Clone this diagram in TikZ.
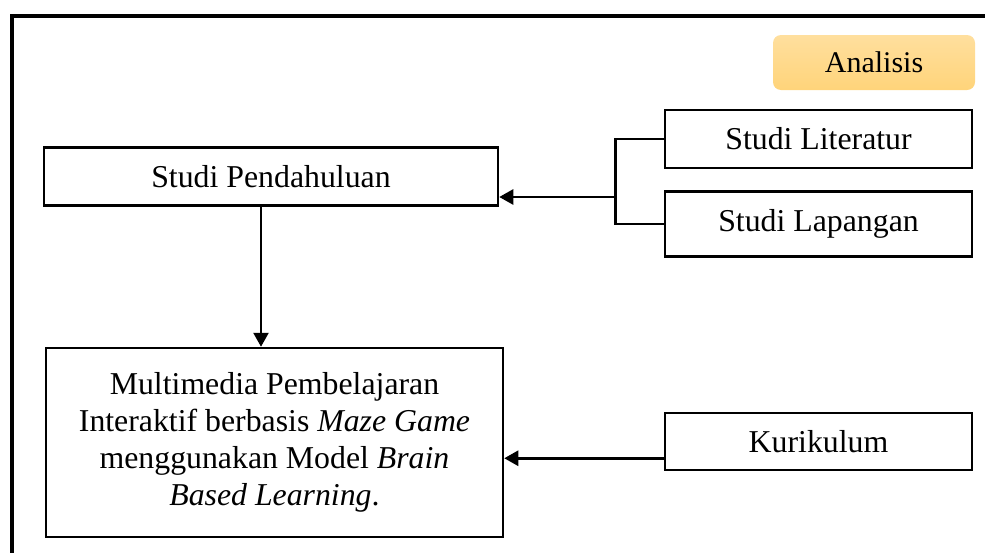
\documentclass[tikz,border=0pt]{standalone}
\usepackage{fontspec}
\setmainfont{Liberation Serif}
\usetikzlibrary{arrows.meta}
\definecolor{tagtop}{RGB}{255,223,158}
\definecolor{tagbot}{RGB}{255,212,122}
\begin{document}
\begin{tikzpicture}[x=1pt,y=-1pt,
  box/.style={draw=black,line width=2.5pt,inner sep=0pt,font=\fontsize{31.8}{37}\selectfont},
  conn/.style={line width=2.6pt},
  arr/.style={line width=2.6pt,-{Triangle[length=14pt,width=15pt]}},
  tag/.style={rounded corners=8pt,top color=tagtop,bottom color=tagbot,inner sep=0pt,font=\fontsize{30}{36}\selectfont}]
\useasboundingbox (0,0) rectangle (985,552);
% outer frame
\draw[line width=4pt] (12,600) -- (12,15.5) -- (1040,15.5);
% nodes
\node[tag,minimum width=202pt,minimum height=55pt] (anal) at (874,62.5) {Analisis};
\node[box,minimum width=454pt,minimum height=58pt] (pend) at (271,176.5) {Studi Pendahuluan};
\node[box,minimum width=307pt,minimum height=58pt] (lit) at (818.5,139) {Studi Literatur};
\node[box,minimum width=307pt,minimum height=65pt] (lap) at (818.5,224) {Studi Lapangan};
\node[box,minimum width=457pt,minimum height=189pt,align=center] (multi) at (274.5,442.5)
  {Multimedia Pembelajaran\\Interaktif berbasis \textit{Maze Game}\\menggunakan Model \textit{Brain}\\\textit{Based Learning}.};
\node[box,minimum width=307pt,minimum height=57pt] (kur) at (818.5,441.5) {Kurikulum};
% connectors
\coordinate (br) at (617,197);
\draw[conn] (lit.west) -- ++(-48,0) |- (lap.west);
\draw[arr] (br) -- (br -| pend.east);
\draw[arr] ([xshift=-10pt]pend.south) -- ([xshift=-10pt]pend.south |- multi.north);
\draw[arr] ([yshift=13pt]kur.south west) -- ([yshift=13pt]kur.south west -| multi.east);
\end{tikzpicture}
\end{document}
